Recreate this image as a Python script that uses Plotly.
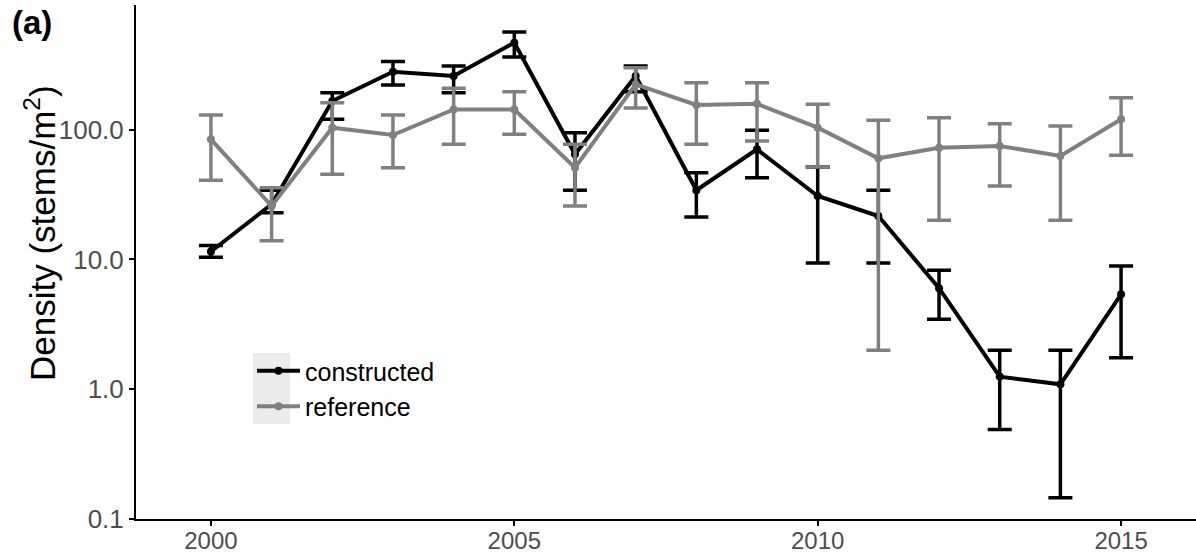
import plotly.graph_objects as go
import numpy as np

years = list(range(2000, 2016))

constructed_mean = [11.5, 26.6, 166, 279, 259, 467, 64.5, 259, 34.1, 70.5, 30.8, 21.6, 6.0, 1.25, 1.09, 5.38]
constructed_upper = [12.8, 34.1, 192, 334, 309, 565, 94.6, 309, 46.6, 98.8, 51.5, 34.1, 8.24, 2.0, 2.0, 8.9]
constructed_lower = [10.4, 22.9, 120, 221, 192, 362, 34.1, 196, 21.2, 42.6, 9.4, 9.4, 3.46, 0.49, 0.146, 1.75]

reference_mean = [84.2, 25.8, 103.5, 90.9, 143, 143, 50.9, 223, 155, 158, 103.5, 60.1, 72.6, 74.8, 62.7, 120]
reference_upper = [129.5, 35.7, 161, 129.5, 208, 196, 77, 300, 230, 230, 157, 118, 123.6, 111, 106.6, 176]
reference_lower = [40.7, 13.9, 45.3, 50.9, 77, 92, 25.8, 147, 77, 81.7, 51.5, 2.0, 20.0, 36.8, 20.0, 63.4]

y_tickvals = [0.1, 1, 10, 100]
y_ticktext = ["0.1", "1.0", "10.0", "100.0"]
x_tickvals = [2000, 2005, 2010, 2015]

FONT = "Arial, Liberation Sans, sans-serif"

def series(name, mean, upper, lower, color):
    m = np.array(mean, dtype=float)
    u = np.array(upper, dtype=float)
    l = np.array(lower, dtype=float)
    return go.Scatter(
        x=years, y=m, name=name, mode="lines+markers",
        line=dict(color=color, width=4),
        marker=dict(color=color, size=8),
        error_y=dict(type="data", symmetric=False, array=u - m, arrayminus=m - l,
                     color=color, thickness=3.5, width=12),
    )

fig = go.Figure()
fig.add_trace(series("constructed", constructed_mean, constructed_upper, constructed_lower, "#000000"))
fig.add_trace(series("reference", reference_mean, reference_upper, reference_lower, "#808080"))

L, T, W, H = 136, 5, 1196, 560
B = 41
pw = W - L
ph = H - T - B

def px_x(x):
    return (x - L) / pw

def px_y(y):
    return (H - B - y) / ph

fig.update_layout(
    width=W, height=H,
    margin=dict(l=L, r=0, t=T, b=B, pad=0),
    plot_bgcolor="white", paper_bgcolor="white",
    font=dict(family=FONT, size=22, color="#4D4D4D"),
    showlegend=True,
    legend=dict(x=px_x(252), y=px_y(348), xanchor="left", yanchor="top",
                bgcolor="rgba(0,0,0,0)", font=dict(size=25, color="black", family=FONT),
                traceorder="normal", itemwidth=43),
    xaxis=dict(range=[1998.765, 2016.235], tickvals=x_tickvals, showgrid=False, zeroline=False,
               showline=True, linecolor="black", linewidth=2, ticks="outside", ticklen=5,
               tickcolor="black", tickwidth=2, ticklabelstandoff=-6,
               tickfont=dict(size=24, color="#4D4D4D")),
    yaxis=dict(type="log", range=[-1, 2.96], tickvals=y_tickvals, ticktext=y_ticktext,
               showgrid=False, zeroline=False, showline=True, linecolor="black", linewidth=2,
               ticks="outside", ticklen=5, tickcolor="black", tickwidth=2,
               tickfont=dict(size=26, color="#4D4D4D")),
    shapes=[dict(type="rect", xref="paper", yref="paper",
                 x0=px_x(253), x1=px_x(290), y0=px_y(424), y1=px_y(353),
                 fillcolor="#EBEBEB", line=dict(width=0), layer="below")],
    annotations=[
        dict(text="<b>(a)</b>", xref="paper", yref="paper", x=px_x(10), y=px_y(23),
             xanchor="left", yanchor="middle", showarrow=False,
             font=dict(size=33, color="black", family=FONT)),
        dict(text="Density (stems/m<sup>2</sup>)", xref="paper", yref="paper",
             x=px_x(40), y=px_y(233), xanchor="center", yanchor="middle", textangle=-90,
             showarrow=False, font=dict(size=35, color="black", family=FONT)),
    ],
)

fig.write_html("out.html", config={"displayModeBar": False},
               post_script="document.body.style.margin='0';")
